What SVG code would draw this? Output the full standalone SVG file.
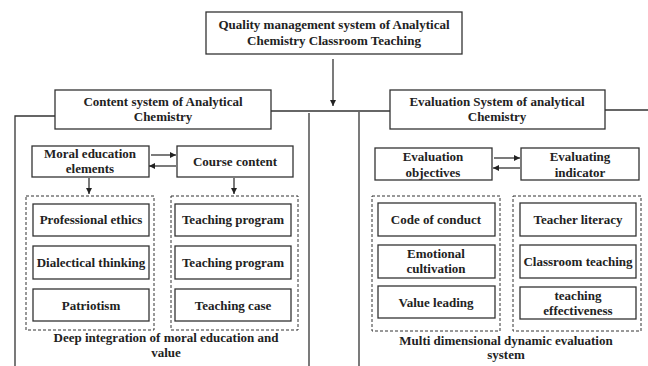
<svg xmlns="http://www.w3.org/2000/svg" width="648" height="366" viewBox="0 0 648 366">
<style>
.b{fill:#fff;stroke:#333;stroke-width:1.3}
.d{fill:none;stroke:#333;stroke-width:1;stroke-dasharray:3 2}
.l{fill:none;stroke:#333;stroke-width:1.3}
text{font-family:"Liberation Serif","Times New Roman",serif;font-weight:bold;font-size:13px;fill:#222;text-anchor:middle}
</style>
<defs>
<marker id="ah" markerWidth="6" markerHeight="6" refX="6" refY="3" orient="auto" markerUnits="userSpaceOnUse">
<path d="M0,0 L6,3 L0,6 Z" fill="#222"/>
</marker>
</defs>
<rect width="648" height="366" fill="#fff"/>
<g id="connectors">
<line class="l" x1="333" y1="59" x2="333" y2="106" marker-end="url(#ah)"/>
<line class="l" x1="271" y1="111" x2="390" y2="111"/>
<line class="l" x1="605" y1="110" x2="648" y2="110"/>
<polyline class="l" points="55,116 15,116 15,366"/>
<line class="l" x1="309" y1="113" x2="309" y2="366"/>
<line class="l" x1="359" y1="112" x2="359" y2="366"/>
<line class="l" x1="151" y1="155" x2="176" y2="155" marker-end="url(#ah)"/>
<line class="l" x1="176" y1="166" x2="149" y2="166" marker-end="url(#ah)"/>
<line class="l" x1="89" y1="178" x2="89" y2="194" marker-end="url(#ah)"/>
<line class="l" x1="234" y1="178" x2="234" y2="194" marker-end="url(#ah)"/>
<line class="l" x1="494" y1="158" x2="520" y2="158" marker-end="url(#ah)"/>
<line class="l" x1="520" y1="168" x2="493" y2="168" marker-end="url(#ah)"/>
</g>
<g id="top"><rect class="b" x="206" y="12" width="256" height="42"/><text x="334" y="29">Quality management system of Analytical</text><text x="334" y="45">Chemistry Classroom Teaching</text></g>
<g id="content"><rect class="b" x="55" y="90" width="216" height="39"/><text x="163" y="106">Content system of Analytical</text><text x="163" y="121">Chemistry</text></g>
<g id="evaluation"><rect class="b" x="390" y="90" width="215" height="39"/><text x="497" y="106">Evaluation System of analytical</text><text x="497" y="121">Chemistry</text></g>
<g id="moral"><rect class="b" x="32" y="146" width="117" height="31"/><text x="90" y="158">Moral education</text><text x="90" y="173">elements</text></g>
<g id="course"><rect class="b" x="177" y="146" width="116" height="31"/><text x="235" y="166">Course content</text></g>
<g id="groupL1"><rect class="d" x="26" y="196" width="128" height="134"/></g>
<g id="groupL2"><rect class="d" x="171" y="196" width="127" height="134"/></g>
<g id="ethics"><rect class="b" x="33" y="204" width="116" height="32"/><text x="91" y="224">Professional ethics</text></g>
<g id="dialectical"><rect class="b" x="33" y="246" width="116" height="33"/><text x="91" y="267">Dialectical thinking</text></g>
<g id="patriotism"><rect class="b" x="33" y="289" width="116" height="32"/><text x="91" y="310">Patriotism</text></g>
<g id="program1"><rect class="b" x="175" y="204" width="116" height="32"/><text x="233" y="224">Teaching program</text></g>
<g id="program2"><rect class="b" x="175" y="246" width="116" height="33"/><text x="233" y="267">Teaching program</text></g>
<g id="case"><rect class="b" x="175" y="289" width="116" height="32"/><text x="233" y="310">Teaching case</text></g>
<g id="captionL"><text x="166" y="342">Deep integration of moral education and</text><text x="166" y="357">value</text></g>
<g id="objectives"><rect class="b" x="375" y="148" width="117" height="32"/><text x="433" y="161">Evaluation</text><text x="433" y="177">objectives</text></g>
<g id="indicator"><rect class="b" x="521" y="148" width="118" height="32"/><text x="580" y="161">Evaluating</text><text x="580" y="177">indicator</text></g>
<g id="groupR1"><rect class="d" x="372" y="196" width="128" height="135"/></g>
<g id="groupR2"><rect class="d" x="513" y="196" width="128" height="135"/></g>
<g id="conduct"><rect class="b" x="378" y="203" width="117" height="33"/><text x="436" y="224">Code of conduct</text></g>
<g id="emotional"><rect class="b" x="378" y="245" width="117" height="33"/><text x="436" y="258">Emotional</text><text x="436" y="273">cultivation</text></g>
<g id="value"><rect class="b" x="378" y="286" width="117" height="32"/><text x="436" y="307">Value leading</text></g>
<g id="literacy"><rect class="b" x="520" y="203" width="116" height="33"/><text x="578" y="224">Teacher literacy</text></g>
<g id="classroom"><rect class="b" x="520" y="245" width="116" height="33"/><text x="578" y="266">Classroom teaching</text></g>
<g id="effectiveness"><rect class="b" x="520" y="287" width="116" height="32"/><text x="578" y="300">teaching</text><text x="578" y="315">effectiveness</text></g>
<g id="captionR"><text x="506" y="345">Multi dimensional dynamic evaluation</text><text x="506" y="359">system</text></g>
</svg>
